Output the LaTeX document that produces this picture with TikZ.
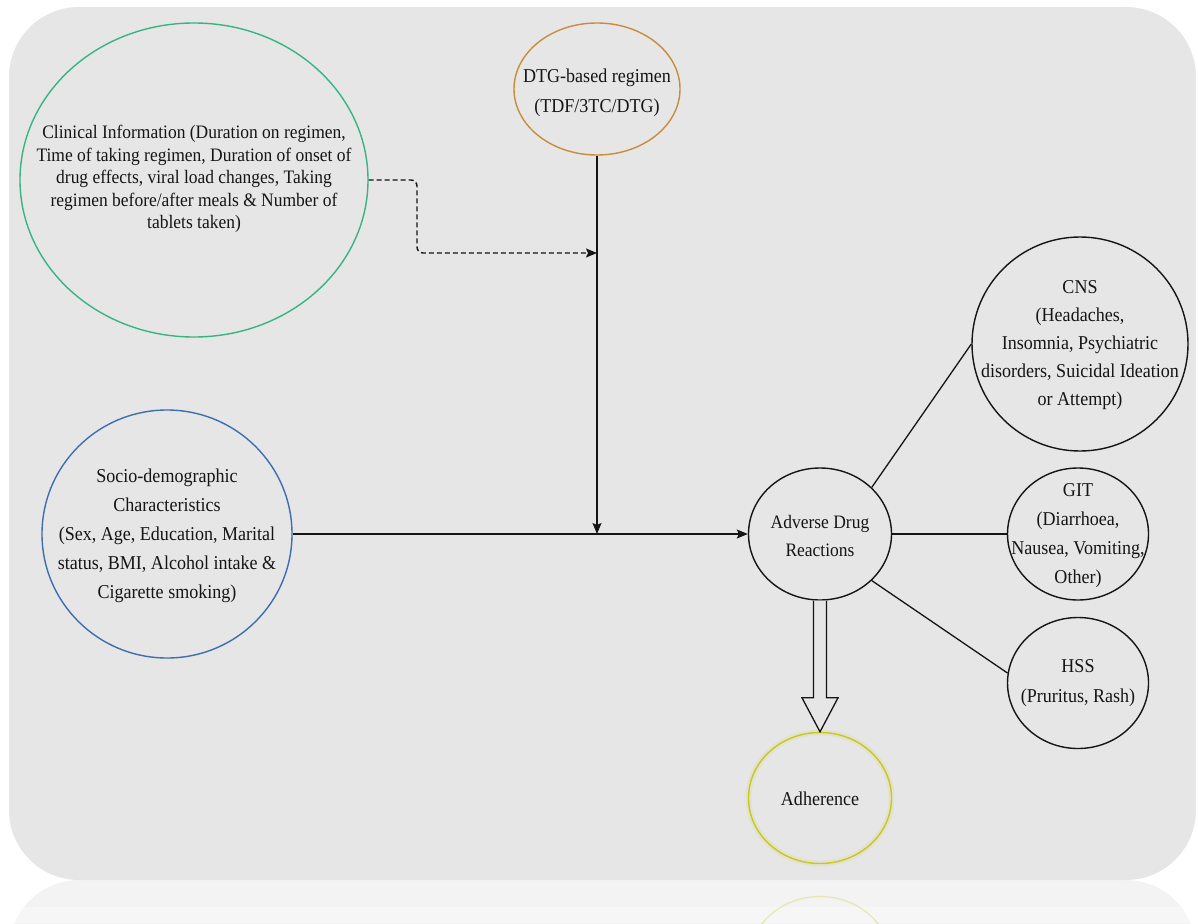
\documentclass[tikz,border=0pt]{standalone}
\usepackage{fontspec}
\setmainfont{Liberation Serif}[FakeStretch=0.92]
\usetikzlibrary{shapes.geometric,arrows.meta,calc}
\definecolor{bggray}{HTML}{E6E6E6}
\definecolor{reflgray}{HTML}{F3F3F3}
\definecolor{clingreen}{RGB}{55,180,130}
\definecolor{dtgorange}{RGB}{200,140,60}
\definecolor{socblue}{RGB}{60,110,180}
\definecolor{adhyellow}{RGB}{200,200,30}
\definecolor{inkc}{HTML}{151515}
\tikzset{
  oval/.style={ellipse, draw=inkc, line width=1.4pt, inner sep=0pt},
  txt/.style={align=center, text=inkc, inner sep=0pt, font=\fontsize{19.6}{29}\selectfont},
  conn/.style={draw=inkc, line width=1.3pt},
  tipA/.style={-{Stealth[length=11pt,width=9pt,inset=2pt]}}
}
\begin{document}
\begin{tikzpicture}[x=1pt,y=-1pt]
\useasboundingbox (0,0) rectangle (1198,923);
% reflection band
\begin{scope}
\clip (0,880) rectangle (1198,923);
\fill[reflgray] (9,880) rectangle (1196,1020);
\fill[white] (0,880) -- (79,880) arc[start angle=270,end angle=180,radius=70] -- (0,950) -- cycle;
\fill[white] (1198,880) -- (1126,880) arc[start angle=270,end angle=360,radius=70] -- (1198,950) -- cycle;
\fill[white,opacity=0.3] (0,907) rectangle (1198,923);
\draw[adhyellow,opacity=0.3,line width=1.3pt] (820,962) ellipse[x radius=71.5,y radius=65.5];
\end{scope}
% background panel
\fill[bggray,rounded corners=70pt] (9,7) rectangle (1196,880);

% ovals
\node[oval, draw=clingreen, minimum width=348pt, minimum height=314pt] (clin) at (194,180) {};
\node[txt, font=\fontsize{19}{22.5}\selectfont] (clinT) at (194,179) {Clinical Information (Duration on regimen,\\Time of taking regimen, Duration of onset of\\drug effects, viral load changes, Taking\\regimen before/after meals \& Number of\\tablets taken)};

\node[oval, draw=dtgorange, minimum width=166pt, minimum height=132pt] (dtg) at (597,89) {};
\node[txt, font=\fontsize{19.6}{30}\selectfont] (dtgT) at (597,93) {DTG-based regimen\\(TDF/3TC/DTG)};

\node[oval, draw=socblue, minimum width=250pt, minimum height=248pt] (soc) at (167,534) {};
\node[txt] (socT) at (167,536) {Socio-demographic\\Characteristics\\(Sex, Age, Education, Marital\\status, BMI, Alcohol intake \&\\Cigarette smoking)};

\node[oval, minimum width=143pt, minimum height=132pt] (adr) at (820,534) {};
\node[txt, font=\fontsize{19}{28}\selectfont] (adrT) at (820,536) {Adverse Drug\\Reactions};

\node[oval, minimum width=216pt, minimum height=214pt] (cns) at (1080,344) {};
\node[txt, font=\fontsize{19.6}{28}\selectfont] (cnsT) at (1080,345) {CNS\\(Headaches,\\Insomnia, Psychiatric\\disorders, Suicidal Ideation\\or Attempt)};

\node[oval, minimum width=141pt, minimum height=132pt] (git) at (1078,534) {};
\node[txt, font=\fontsize{19.6}{29}\selectfont] (gitT) at (1078,536) {GIT\\(Diarrhoea,\\Nausea, Vomiting,\\Other)};

\node[oval, minimum width=141pt, minimum height=131pt] (hss) at (1078,683) {};
\node[txt, font=\fontsize{19.6}{30}\selectfont] (hssT) at (1078,683) {HSS\\(Pruritus, Rash)};

\draw[adhyellow, opacity=0.12, line width=6pt] (820,798) ellipse[x radius=71.5,y radius=65.5];
\node[oval, draw=adhyellow, minimum width=143pt, minimum height=131pt] (adh) at (820,798) {};
\node[txt] (adhT) at (820,799) {Adherence};

% junction coordinates
\coordinate (jmain) at (597,534);
\coordinate (jdash) at (597,253);
\coordinate (dbend) at (417,253);

% connectors
\draw[conn, tipA] (soc.east) -- (adr.west);
\draw[conn, tipA] (dtg.south) -- (jmain);
\draw[conn, tipA, line width=1.4pt, dash pattern=on 5pt off 3pt, rounded corners=6pt] (clin.east) -| (dbend) -- (jdash);
\draw[conn] (adr.east) -- (git.west);
\draw[conn] (adr.42) -- (cns.west);
\draw[conn] (adr.-42) -- (hss.172);

% hollow block arrow
\coordinate (ha) at (adr.south);
\coordinate (hb) at (adh.north);
\draw[draw=inkc, line width=1.3pt, fill=bggray, line join=miter]
  ($(ha)+(-6.5,0)$) -- ($(hb)+(-6.5,-34)$) -- ($(hb)+(-18,-34)$) -- (hb)
  -- ($(hb)+(18,-34)$) -- ($(hb)+(6.5,-34)$) -- ($(ha)+(6.5,0)$);
\end{tikzpicture}
\end{document}
